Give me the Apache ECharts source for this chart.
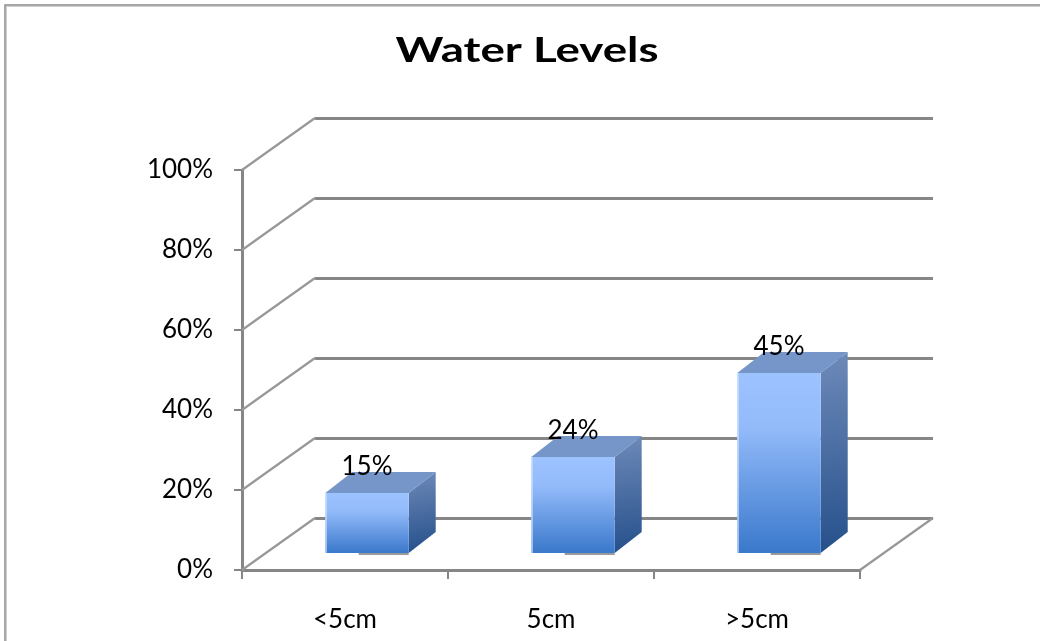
<!DOCTYPE html>
<html>
<head>
<meta charset="utf-8">
<title>Water Levels</title>
<script src="https://cdn.jsdelivr.net/npm/echarts@6/dist/echarts.min.js"></script>
<style>
  html, body { margin: 0; padding: 0; background: #ffffff; }
  #chart { width: 1040px; height: 641px; }
</style>
</head>
<body>
<div id="chart"></div>
<script>
// ---- data ----
const titleText = 'Water Levels';
const categories = ['<5cm', '5cm', '>5cm'];
const shares = [15, 24, 45];           // percent of readings per water level
const yTicks = [0, 20, 40, 60, 80, 100]; // percent scale

// ---- layout / style ----
const AXIS_GRAY = '#868686';
const DIAG_GRAY = '#989898';
const FRONT = { left: 242, top: 170, width: 618, height: 400 }; // front plane of the plot box
const DEPTH = [73, -52];      // offset from front plane to back wall
const BAR_FRONT = [22, -17];  // where a bar's front face sits inside the depth
const BAR_DEPTH = [27, -21];  // thickness of a bar along the depth
const BAR_WIDTH_RATIO = 0.405;

const TITLE_FONT = 'bold 35px Lato';
function textWidth(text, font) {
  const ctx = document.createElement('canvas').getContext('2d');
  ctx.font = font;
  return ctx.measureText(text).width;
}
const titleScale = 263 / textWidth(titleText, TITLE_FONT);

const chart = echarts.init(document.getElementById('chart'), null, { renderer: 'canvas' });

// perspective edges joining the front axis to the back wall gridlines
function renderDiagonals(params, api) {
  const cs = params.coordSys;
  const v = api.value(1);
  const y = api.coord([0, v])[1];
  const style = { stroke: DIAG_GRAY, lineWidth: 2.2 };
  const children = [{
    type: 'line',
    shape: { x1: cs.x, y1: y, x2: cs.x + DEPTH[0], y2: y + DEPTH[1] },
    style: style
  }];
  if (v === yTicks[0]) {
    // right edge of the floor
    children.push({
      type: 'line',
      shape: { x1: cs.x + cs.width, y1: y, x2: cs.x + cs.width + DEPTH[0], y2: y + DEPTH[1] },
      style: style
    });
  }
  return { type: 'group', children: children };
}

// 3D-looking column: front face, top face, right face and value label
function renderBar(params, api) {
  const idx = api.value(0);
  const val = api.value(1);
  const base = api.coord([idx, 0]);
  const top = api.coord([idx, val]);
  const band = api.size([1, 0])[0];
  const w = band * BAR_WIDTH_RATIO;
  const x0 = base[0] - w / 2 + BAR_FRONT[0];
  const x1 = x0 + w;
  const yb = base[1] + BAR_FRONT[1];
  const yt = top[1] + BAR_FRONT[1];
  const dx = BAR_DEPTH[0], dy = BAR_DEPTH[1];

  return {
    type: 'group',
    children: [
      // shadow on the floor
      {
        type: 'line',
        shape: { x1: x0 + w * 0.4, y1: yb + 1, x2: x1, y2: yb + 1 },
        style: { stroke: '#9a9a9a', lineWidth: 2 }
      },
      // right face
      {
        type: 'polygon',
        shape: { points: [[x1, yt], [x1 + dx, yt + dy], [x1 + dx, yb + dy], [x1, yb]] },
        style: {
          fill: new echarts.graphic.LinearGradient(0, 0, 0.5, 1, [
            { offset: 0, color: '#6e8ab9' },
            { offset: 1, color: '#26508b' }
          ])
        }
      },
      // top face
      {
        type: 'polygon',
        shape: { points: [[x0, yt], [x1, yt], [x1 + dx, yt + dy], [x0 + dx, yt + dy]] },
        style: { fill: '#7696c9' }
      },
      // front face
      {
        type: 'rect',
        shape: { x: x0, y: yt, width: w, height: yb - yt },
        style: {
          fill: new echarts.graphic.LinearGradient(0, 0, 0, 1, [
            { offset: 0, color: '#9dc3ff' },
            { offset: 0.3, color: '#93bbfa' },
            { offset: 1, color: '#3a78cb' }
          ])
        }
      },
      // light left edge of the front face
      {
        type: 'rect',
        shape: { x: x0, y: yt, width: 1.5, height: yb - yt },
        style: { fill: 'rgba(210,228,255,0.8)' }
      },
      // value label
      {
        type: 'text',
        x: x0 + w / 2,
        y: yt - 26,
        style: {
          text: val + '%',
          font: '26px Lato',
          fill: '#000000',
          align: 'center',
          verticalAlign: 'middle'
        }
      }
    ]
  };
}

const option = {
  animation: false,
  backgroundColor: '#ffffff',
  grid: [
    { left: FRONT.left, top: FRONT.top, width: FRONT.width, height: FRONT.height, containLabel: false },
    { left: FRONT.left + DEPTH[0], top: FRONT.top + DEPTH[1], width: FRONT.width, height: FRONT.height, containLabel: false }
  ],
  xAxis: [
    {
      gridIndex: 0,
      type: 'category',
      data: categories,
      boundaryGap: true,
      axisLine: { show: true, lineStyle: { color: AXIS_GRAY, width: 3 } },
      axisTick: { show: true, length: 9, lineStyle: { color: AXIS_GRAY, width: 2 } },
      axisLabel: { margin: 37, fontFamily: 'Lato', fontSize: 26, color: '#000000' },
      splitLine: { show: false }
    },
    {
      gridIndex: 1,
      type: 'category',
      data: categories,
      show: false
    }
  ],
  yAxis: [
    {
      gridIndex: 0,
      type: 'value',
      min: yTicks[0],
      max: yTicks[yTicks.length - 1],
      interval: yTicks[1] - yTicks[0],
      axisLine: { show: true, lineStyle: { color: AXIS_GRAY, width: 3 } },
      axisTick: { show: true, length: 8, lineStyle: { color: AXIS_GRAY, width: 2 } },
      axisLabel: {
        formatter: '{value}%', margin: 29, fontFamily: 'Lato', fontSize: 26, color: '#000000',
        padding: [5, 0, 0, 0]
      },
      splitLine: { show: false }
    },
    {
      gridIndex: 1,
      type: 'value',
      min: yTicks[0],
      max: yTicks[yTicks.length - 1],
      interval: yTicks[1] - yTicks[0],
      axisLine: { show: false },
      axisTick: { show: false },
      axisLabel: { show: false },
      splitLine: { show: true, lineStyle: { color: AXIS_GRAY, width: 3 } }
    }
  ],
  series: [
    {
      type: 'custom',
      name: 'walls',
      xAxisIndex: 0,
      yAxisIndex: 0,
      z: 1,
      silent: true,
      renderItem: renderDiagonals,
      data: yTicks.map(v => [0, v])
    },
    {
      type: 'custom',
      name: 'Water Levels',
      xAxisIndex: 0,
      yAxisIndex: 0,
      z: 3,
      renderItem: renderBar,
      data: shares.map((v, i) => [i, v])
    }
  ],
  graphic: [
    {
      type: 'rect',
      shape: { x: 5, y: 5, width: 1100, height: 700 },
      style: { fill: 'none', stroke: '#8a8a8a', lineWidth: 1.5 },
      silent: true
    },
    {
      type: 'rect',
      shape: { x: 6.5, y: 6.5, width: 1100, height: 700 },
      style: { fill: 'none', stroke: '#cfcfcf', lineWidth: 1 },
      silent: true
    },
    {
      type: 'text',
      x: 527,
      y: 51,
      scaleX: titleScale,
      style: {
        text: titleText,
        font: TITLE_FONT,
        fill: '#000000',
        align: 'center',
        verticalAlign: 'middle'
      }
    }
  ]
};

chart.setOption(option);
</script>
</body>
</html>
